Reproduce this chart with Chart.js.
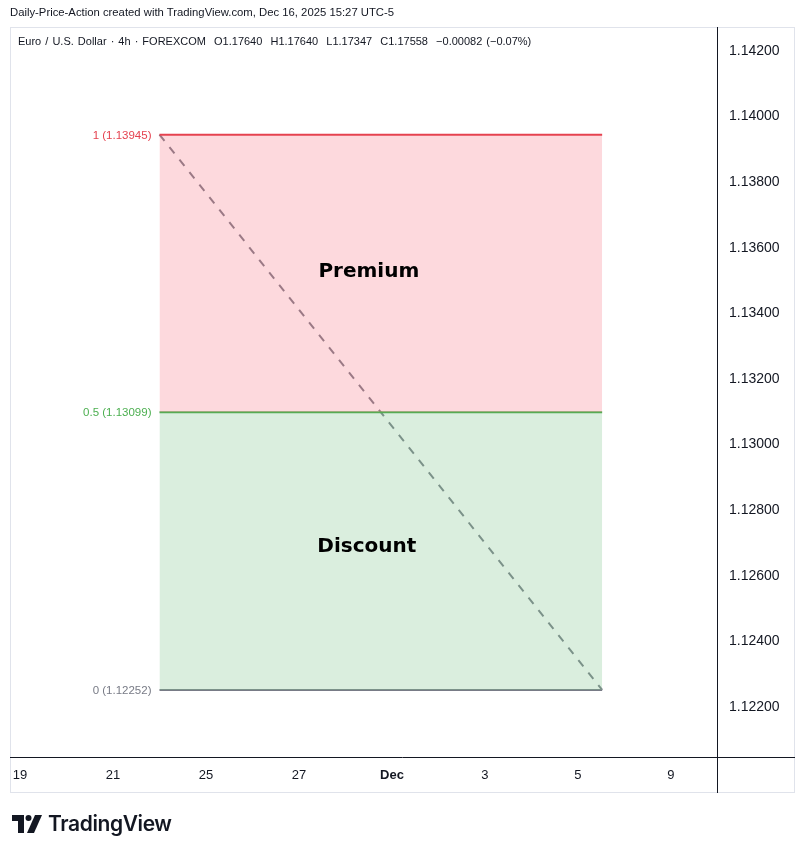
<!DOCTYPE html>
<html>
<head>
<meta charset="utf-8">
<script src="https://cdn.jsdelivr.net/npm/chart.js@4"></script>
<style>
  html,body{margin:0;padding:0;background:#fff;width:805px;height:854px;overflow:hidden;}
  #wrap{position:relative;width:805px;height:854px;}
  #c{position:absolute;left:0;top:0;}
  .hdr{position:absolute;left:10px;top:6px;font:11.3px "Liberation Sans",Arial,sans-serif;color:#131722;white-space:nowrap;}
  .leg{position:absolute;left:18px;top:35px;font:11px "Liberation Sans",Arial,sans-serif;color:#131722;white-space:nowrap;word-spacing:1px;}
  .logo{position:absolute;left:12px;top:811px;display:flex;align-items:center;}
  .logo span{font:600 21px Inter,"Liberation Sans",sans-serif;color:#131722;margin-left:6px;letter-spacing:-0.4px;}
</style>
</head>
<body>
<div id="wrap">
  <canvas id="c" width="805" height="854"></canvas>
  <div class="hdr">Daily-Price-Action created with TradingView.com, Dec 16, 2025 15:27 UTC-5</div>
  <div class="leg">Euro / U.S. Dollar · 4h · FOREXCOM &nbsp;O1.17640 &nbsp;H1.17640 &nbsp;L1.17347 &nbsp;C1.17558 &nbsp;−0.00082 (−0.07%)</div>
  <div class="logo">
    <svg width="30" height="18" viewBox="0 0 30 18">
      <path d="M0 0 H12 V18 H6 V6 H0 Z" fill="#131722"/>
      <circle cx="16.5" cy="3" r="3" fill="#131722"/>
      <path d="M23 0 H30 L22 18 H15 Z" fill="#131722"/>
    </svg>
    <span>TradingView</span>
  </div>
</div>
<script>
// ---- data ----
const xTickPositions = [0, 2, 4, 6, 8, 10, 12, 14];      // trading-day index
const xTickLabels    = ['19', '21', '25', '27', 'Dec', '3', '5', '9'];
const yTickValues    = [1.122, 1.124, 1.126, 1.128, 1.130, 1.132, 1.134, 1.136, 1.138, 1.140, 1.142];
const levelNames     = ['1', '0.5', '0'];
const levelValues    = [1.13945, 1.13099, 1.12252];
const zoneStartX     = 3.0;
const zoneEndX       = 12.52;
const zoneNames      = ['Premium', 'Discount'];

const levelColors = ['#e5424f', '#4caf50', '#787b86'];

function hLine(v){ return [{x: zoneStartX, y: v}, {x: zoneEndX, y: v}]; }

const datasets = [
  { data: hLine(levelValues[0]), borderColor: levelColors[0], borderWidth: 2,
    fill: '+1', backgroundColor: 'rgba(247,120,132,0.28)' },
  { data: hLine(levelValues[1]), borderColor: levelColors[1], borderWidth: 2,
    fill: '+1', backgroundColor: 'rgba(134,200,146,0.30)' },
  { data: hLine(levelValues[2]), borderColor: levelColors[2], borderWidth: 2, fill: false },
  { data: [{x: zoneStartX, y: levelValues[0]}, {x: zoneEndX, y: levelValues[2]}],
    borderColor: '#787b86', borderWidth: 2, borderDash: [8, 8], fill: false }
];

const deco = {
  id: 'deco',
  beforeDraw(chart){
    const ctx = chart.ctx;
    ctx.save();
    ctx.fillStyle = '#fff';
    ctx.fillRect(0, 0, chart.width, chart.height);
    ctx.restore();
  },
  afterDatasetsDraw(chart){
    const ctx = chart.ctx;
    const xs = chart.scales.x, ys = chart.scales.y;
    ctx.save();
    // level labels
    ctx.font = '11.5px "Liberation Sans", Arial, sans-serif';
    ctx.textAlign = 'right';
    ctx.textBaseline = 'middle';
    levelValues.forEach((v, i) => {
      ctx.fillStyle = levelColors[i];
      ctx.fillText(levelNames[i] + ' (' + v.toFixed(5) + ')', xs.getPixelForValue(zoneStartX) - 8, ys.getPixelForValue(v) + 1);
    });
    // zone labels
    ctx.font = 'bold 20px "DejaVu Sans", sans-serif';
    ctx.textAlign = 'center';
    ctx.fillStyle = '#000';
    const cx = (xs.getPixelForValue(zoneStartX) + xs.getPixelForValue(zoneEndX)) / 2 - 12;
    ctx.fillText(zoneNames[0], cx, (ys.getPixelForValue(levelValues[0]) + ys.getPixelForValue(levelValues[1])) / 2 - 2);
    ctx.fillText(zoneNames[1], cx - 2, (ys.getPixelForValue(levelValues[1]) + ys.getPixelForValue(levelValues[2])) / 2 - 4);
    ctx.restore();
  },
  afterDraw(chart){
    const ctx = chart.ctx, a = chart.chartArea;
    ctx.save();
    // outer frame
    ctx.strokeStyle = '#e0e3eb';
    ctx.lineWidth = 1;
    ctx.strokeRect(a.left + 0.5, a.top + 0.5, 795 - a.left - 1, 793 - a.top - 1);
    // axis lines
    ctx.strokeStyle = '#131722';
    ctx.beginPath();
    ctx.moveTo(a.right + 0.5, a.top);
    ctx.lineTo(a.right + 0.5, 793);
    ctx.moveTo(a.left, a.bottom + 0.5);
    ctx.lineTo(795, a.bottom + 0.5);
    ctx.stroke();
    ctx.restore();
  }
};

new Chart(document.getElementById('c'), {
  type: 'line',
  data: { datasets },
  plugins: [deco],
  options: {
    responsive: false,
    animation: false,
    devicePixelRatio: 1,
    layout: { padding: { left: 10, top: 27, right: 10, bottom: 61 } },
    elements: { point: { radius: 0 }, line: { tension: 0 } },
    plugins: { legend: { display: false }, tooltip: { enabled: false } },
    scales: {
      x: {
        type: 'linear', min: -0.215, max: 14.99,
        grid: { display: false, drawTicks: false },
        border: { display: false },
        afterBuildTicks(s){ s.ticks = xTickPositions.map(v => ({ value: v })); },
        afterFit(s){ s.height = 36; },
        ticks: {
          autoSkip: false, maxRotation: 0, padding: 11, color: '#131722',
          font: ctx => ({ family: '"Liberation Sans", Arial, sans-serif', size: 13,
            weight: (xTickLabels[xTickPositions.indexOf(ctx.tick && ctx.tick.value)] === 'Dec') ? 'bold' : 'normal' }),
          callback: v => xTickLabels[xTickPositions.indexOf(v)]
        }
      },
      y: {
        type: 'linear', position: 'right', min: 1.120476, max: 1.142732,
        grid: { display: false, drawTicks: false },
        border: { display: false },
        afterBuildTicks(s){ s.ticks = yTickValues.map(v => ({ value: v })); },
        afterFit(s){ s.width = 78; },
        ticks: {
          autoSkip: false, crossAlign: 'near', padding: 12, color: '#131722',
          font: { family: '"Liberation Sans", Arial, sans-serif', size: 14 },
          callback: v => v.toFixed(5)
        }
      }
    }
  }
});
</script>
</body>
</html>
